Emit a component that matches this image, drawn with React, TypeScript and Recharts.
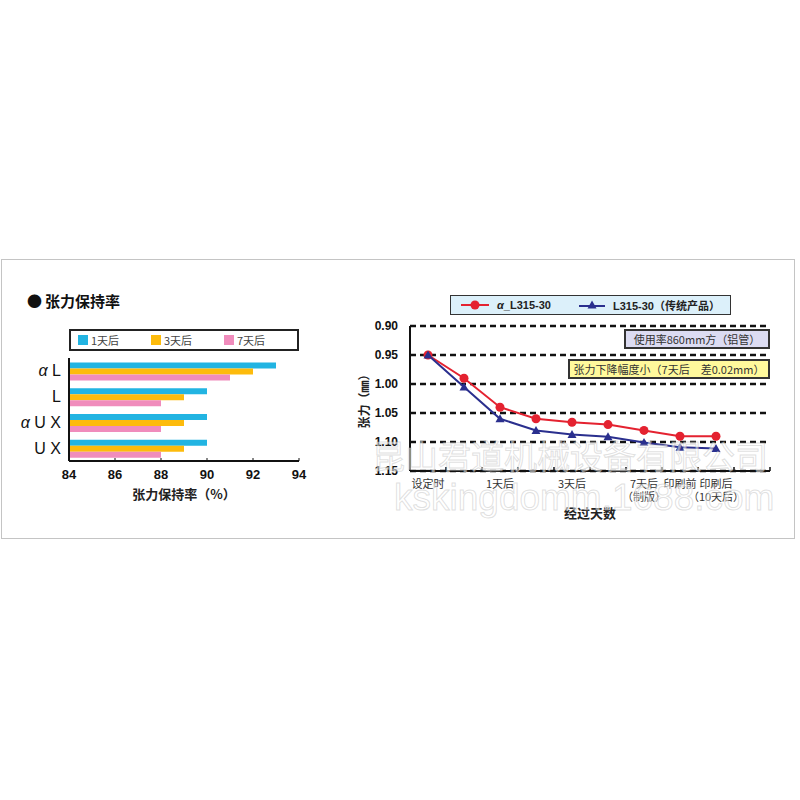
import {
  BarChart,
  Bar,
  LineChart,
  Line,
  XAxis,
  YAxis,
  CartesianGrid,
  Legend,
  Label,
} from "recharts";

const FONT = '"Liberation Sans", "Noto Sans CJK SC", sans-serif';
const CJK = '"Noto Sans CJK SC", sans-serif';

// 张力保持率 (%) per product
const products = ["α L", "L", "α U X", "U X"];
const after1Day = [93, 90, 90, 90];
const after3Days = [92, 89, 89, 89];
const after7Days = [91, 88, 88, 88];
const retentionTicks = [84, 86, 88, 90, 92, 94];

const BAR_SERIES = [
  { key: "d1", name: "1天后", color: "#22b4e2", values: after1Day },
  { key: "d3", name: "3天后", color: "#fdbb0c", values: after3Days },
  { key: "d7", name: "7天后", color: "#f08cbc", values: after7Days },
];

// 张力 (mm) over time
const stages = ["设定时", "", "1天后", "", "3天后", "", "7天后\n（制版）", "印刷前", "印刷后\n（10天后）"];
const alphaL315 = [0.95, 0.99, 1.04, 1.06, 1.066, 1.07, 1.08, 1.09, 1.09];
const legacyL315 = [0.95, 1.005, 1.06, 1.08, 1.087, 1.091, 1.101, 1.109, 1.111];
const tensionTicks = [0.9, 0.95, 1.0, 1.05, 1.1, 1.15];
const SLOTS = 10;

const barData = products.map((product, i) => {
  const row: Record<string, string | number> = { product };
  BAR_SERIES.forEach((s) => (row[s.key] = s.values[i]));
  return row;
});

const lineData = stages.map((stage, i) => ({
  slot: i + 0.5,
  stage,
  alpha: alphaL315[i],
  legacy: legacyL315[i],
}));

const slotTicks = [
  ...Array.from({ length: SLOTS + 1 }, (_, i) => i),
  ...stages.map((s, i) => (s ? i + 0.5 : -1)).filter((v) => v >= 0),
].sort((a, b) => a - b);

const RED = "#e42230";
const NAVY = "#2a2f8e";

function StageTick({ x, y, payload }: any) {
  const v = payload.value;
  if (Number.isInteger(v)) {
    return <line x1={x} x2={x} y1={y} y2={y - 4} stroke="#111" strokeWidth={1.5} />;
  }
  const lines = (stages[Math.floor(v)] || "").split("\n");
  return (
    <text x={x} y={y + 17} textAnchor="middle" fontSize={11} fill="#333" fontFamily={CJK}>
      {lines.map((l, i) => (
        <tspan key={i} x={x} dy={i === 0 ? 0 : 13}>
          {l}
        </tspan>
      ))}
    </text>
  );
}

function ProductTick({ x, y, payload }: any) {
  const label: string = payload.value;
  const alpha = label.startsWith("α");
  return (
    <text x={x} y={y} dy="0.35em" textAnchor="end" fontSize={16} fill="#111" fontFamily={FONT}>
      {alpha && <tspan fontStyle="italic">α</tspan>}
      {alpha ? label.slice(1) : label}
    </text>
  );
}

function Triangle({ cx, cy }: any) {
  if (cx == null || cy == null) return null;
  return <path d={`M${cx},${cy - 4.5} L${cx + 4.5},${cy + 3.5} L${cx - 4.5},${cy + 3.5} Z`} fill={NAVY} />;
}

function BarLegend() {
  return (
    <div
      style={{
        boxSizing: "border-box",
        width: 230,
        height: 22,
        border: "2px solid #222",
        display: "flex",
        alignItems: "center",
        paddingLeft: 7,
        fontFamily: CJK,
        fontSize: 11,
        color: "#444",
      }}
    >
      {BAR_SERIES.map((s) => (
        <div key={s.key} style={{ width: 75, display: "flex", alignItems: "center" }}>
          <span style={{ width: 10, height: 10, background: s.color, marginRight: 3 }} />
          {s.name}
        </div>
      ))}
    </div>
  );
}

function LineLegend() {
  return (
    <div
      style={{
        boxSizing: "border-box",
        width: 281,
        height: 20,
        border: "1.5px solid #333",
        background: "#dcf0fa",
        display: "flex",
        alignItems: "center",
        paddingLeft: 10,
        fontFamily: FONT,
        fontSize: 11,
        fontWeight: 700,
        color: "#222",
      }}
    >
      <svg width={28} height={12} style={{ marginRight: 8 }}>
        <line x1={0} x2={28} y1={6} y2={6} stroke={RED} strokeWidth={2} />
        <circle cx={14} cy={6} r={4.5} fill={RED} />
      </svg>
      <span style={{ width: 82 }}>
        <i>α</i>_L315-30
      </span>
      <svg width={26} height={12} style={{ marginRight: 8 }}>
        <line x1={0} x2={26} y1={7} y2={7} stroke={NAVY} strokeWidth={2} />
        <path d="M13,1.5 L17.5,9.5 L8.5,9.5 Z" fill={NAVY} />
      </svg>
      <span>L315-30（传统产品）</span>
    </div>
  );
}

const boxText = {
  position: "absolute" as const,
  boxSizing: "border-box" as const,
  border: "2px solid #333",
  display: "flex",
  alignItems: "center",
  justifyContent: "center",
  fontFamily: CJK,
  fontSize: 11,
  color: "#333",
  height: 20,
};

const watermark = {
  position: "absolute" as const,
  color: "rgba(255,255,255,0.5)",
  WebkitTextStroke: "1px rgba(175,175,175,0.4)",
  whiteSpace: "nowrap" as const,
  pointerEvents: "none" as const,
};

export default function App() {
  return (
    <div style={{ position: "absolute", left: 0, top: 0, width: 800, height: 800, background: "#fff", fontFamily: FONT }}>
      <div style={{ position: "absolute", left: 1, top: 259, width: 794, height: 280, border: "1px solid #c4c4c4", boxSizing: "border-box" }} />

      <div style={{ position: "absolute", left: 27, top: 291, fontFamily: CJK, fontSize: 15, fontWeight: 700, color: "#111", lineHeight: "20px", display: "flex" }}>
        <span style={{ marginRight: 3 }}>●</span>
        <span>张力保持率</span>
      </div>

      <div style={{ position: "absolute", left: 0, top: 320 }}>
        <BarChart
          width={310}
          height={190}
          data={barData}
          layout="vertical"
          margin={{ top: 38, right: 11, left: 0, bottom: 9 }}
          barCategoryGap="17%"
          barGap={0}
        >
          <XAxis
            type="number"
            domain={[84, 94]}
            ticks={retentionTicks}
            interval={0}
            height={40}
            tickSize={-3}
            tickMargin={12}
            axisLine={{ stroke: "#111", strokeWidth: 2 }}
            tickLine={{ stroke: "#111" }}
            tick={{ fontSize: 13, fontWeight: 700, fill: "#111" }}
          >
            <Label
              value="张力保持率（%）"
              position="insideBottom"
              offset={2}
              style={{ fontSize: 13, fontWeight: 700, fill: "#222", fontFamily: CJK }}
            />
          </XAxis>
          <XAxis
            xAxisId="top"
            orientation="top"
            type="number"
            domain={[84, 94]}
            height={0}
            tick={false}
            tickLine={false}
            axisLine={{ stroke: "#111", strokeWidth: 2 }}
          />
          <YAxis
            type="category"
            dataKey="product"
            width={69}
            tickSize={0}
            tickMargin={8}
            tickLine={false}
            axisLine={{ stroke: "#111", strokeWidth: 2 }}
            tick={<ProductTick />}
          />
          <YAxis
            yAxisId="right"
            orientation="right"
            type="category"
            dataKey="product"
            width={0}
            tick={false}
            tickLine={false}
            axisLine={{ stroke: "#111", strokeWidth: 2 }}
          />
          <Legend
            layout="horizontal"
            verticalAlign="middle"
            align="center"
            wrapperStyle={{ top: 9, left: 69, width: 230 }}
            content={() => <BarLegend />}
          />
          {BAR_SERIES.map((s) => (
            <Bar key={s.key} dataKey={s.key} name={s.name} fill={s.color} isAnimationActive={false} />
          ))}
        </BarChart>
      </div>

      <div style={{ position: "absolute", left: 340, top: 280 }}>
        <LineChart width={450} height={260} data={lineData} margin={{ top: 46, right: 20, left: 0, bottom: 19 }}>
          <CartesianGrid vertical={false} strokeDasharray="6 4" stroke="#111" strokeWidth={2.5} />
          <XAxis
            type="number"
            dataKey="slot"
            domain={[0, SLOTS]}
            ticks={slotTicks}
            interval={0}
            height={50}
            tickSize={0}
            tickMargin={0}
            tickLine={false}
            axisLine={{ stroke: "#111", strokeWidth: 2 }}
            tick={<StageTick />}
          >
            <Label
              value="经过天数"
              position="insideBottom"
              offset={3}
              style={{ fontSize: 13, fontWeight: 700, fill: "#222", fontFamily: CJK }}
            />
          </XAxis>
          <YAxis
            type="number"
            domain={[0.9, 1.15]}
            reversed
            ticks={tensionTicks}
            interval={0}
            width={70}
            tickSize={0}
            tickMargin={12}
            tickLine={false}
            tickFormatter={(v: number) => v.toFixed(2)}
            axisLine={{ stroke: "#111", strokeWidth: 2 }}
            tick={{ fontSize: 12, fontWeight: 700, fill: "#111" }}
          >
            <Label
              value="张力（㎜）"
              angle={-90}
              position="insideLeft"
              offset={25}
              style={{ textAnchor: "middle", fontSize: 12, fontWeight: 700, fill: "#222", fontFamily: CJK }}
            />
          </YAxis>
          <Legend
            layout="horizontal"
            verticalAlign="middle"
            align="center"
            wrapperStyle={{ top: 15, left: 110, width: 281 }}
            content={() => <LineLegend />}
          />
          <Line
            dataKey="alpha"
            name="α_L315-30"
            stroke={RED}
            strokeWidth={2}
            dot={{ r: 4.5, fill: RED, stroke: RED, strokeWidth: 0 }}
            isAnimationActive={false}
          />
          <Line
            dataKey="legacy"
            name="L315-30（传统产品）"
            stroke={NAVY}
            strokeWidth={2}
            dot={<Triangle />}
            isAnimationActive={false}
          />
        </LineChart>
      </div>

      <div style={{ ...boxText, left: 624, top: 329, width: 146, background: "#dcdcf2" }}>使用率860mm方（铝管）</div>
      <div style={{ ...boxText, left: 568, top: 359, width: 202, background: "#fff99c" }}>
        张力下降幅度小（7天后　差0.02mm）
      </div>

      <div style={{ ...watermark, left: 372, top: 436, fontFamily: CJK, fontSize: 33, lineHeight: "38px" }}>
        昆山君道机械设备有限公司
      </div>
      <div style={{ ...watermark, left: 394, top: 477, fontFamily: FONT, fontSize: 37, lineHeight: "42px" }}>
        kskingdomm.1688.com
      </div>
    </div>
  );
}
